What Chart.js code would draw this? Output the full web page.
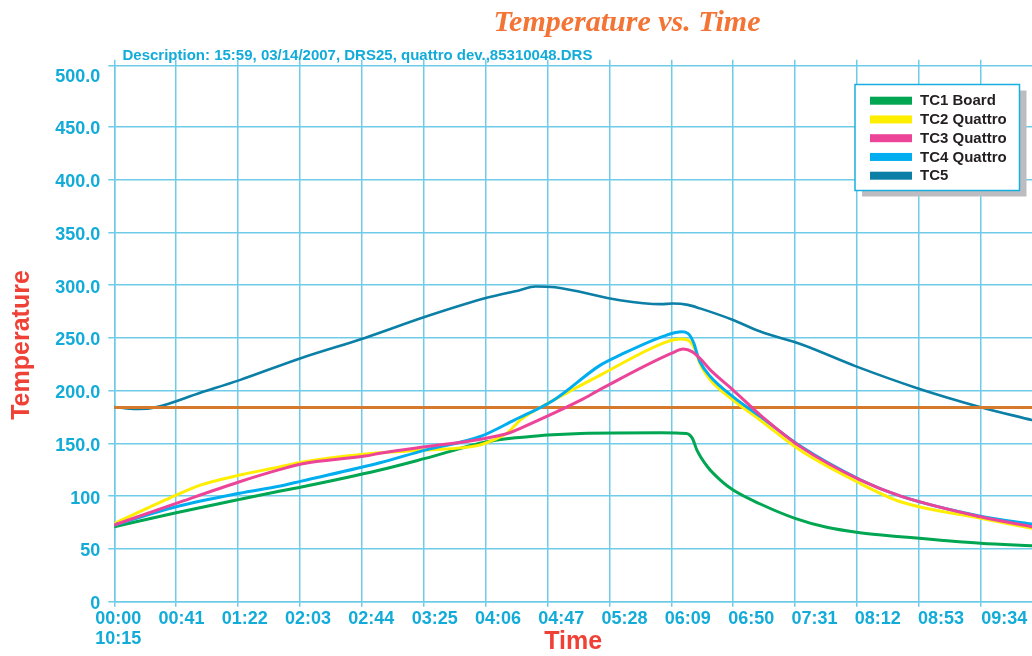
<!DOCTYPE html>
<html><head><meta charset="utf-8">
<script src="https://cdn.jsdelivr.net/npm/chart.js@4.4.1/dist/chart.umd.min.js"></script>
<style>html,body{margin:0;padding:0;background:#fff;overflow:hidden}#wrap{position:relative;width:1032px;height:656px}</style>
</head><body><div id="wrap"><canvas id="c" width="1032" height="656"></canvas></div>
<script>
const chartTitle = 'Temperature vs. Time';
const description = 'Description: 15:59, 03/14/2007, DRS25, quattro dev.,85310048.DRS';
const xAxisTitle = 'Time';
const yAxisTitle = 'Temperature';
const seriesNames = ['TC1 Board', 'TC2 Quattro', 'TC3 Quattro', 'TC4 Quattro', 'TC5'];

const xTickSeconds = [0, 41, 82, 123, 164, 205, 246, 287, 328, 369, 410, 451, 492, 533, 574];
const xTickLabels = ['00:00', '00:41', '01:22', '02:03', '02:44', '03:25', '04:06', '04:47', '05:28', '06:09', '06:50', '07:31', '08:12', '08:53', '09:34'];
const xFirstSubLabel = '10:15';
const xMaxSeconds = 608;
const xLabelScaleMin = -2.5;
const xLabelScaleMax = 591.9;
const yTickValues = [0, 50, 100, 150, 200, 250, 300, 350, 400, 450, 500];
const yTickLabels = ['0', '50', '100', '150.0', '200.0', '250.0', '300.0', '350.0', '400.0', '450.0', '500.0'];
const yMax = 508;

const tc1Time = [0, 41, 83, 110, 124, 176, 206, 247, 287, 309, 362, 379, 383, 386, 393, 401.5, 410, 428, 451, 472, 494, 521, 574, 608];
const tc1Temp = [71, 84.3, 97, 104.9, 108.7, 124.8, 135.8, 151.6, 157.9, 159.5, 160.1, 159.5, 154.8, 143.7, 127.9, 115.3, 105.8, 92.6, 79, 70.5, 65.4, 61.6, 55.3, 53];

const tc2Time = [0, 41, 57, 83, 110, 124, 176, 206, 242, 251, 260, 269, 291, 322, 366, 375, 380, 385, 388, 395, 410, 428, 455, 494, 521, 574, 608];
const tc2Temp = [74.2, 101, 110.5, 120, 127.9, 132.3, 141.2, 143.7, 148.4, 153.2, 159.5, 172.1, 191, 214.8, 246.3, 248.9, 247.9, 238.4, 225.8, 210, 191, 172, 143, 112.2, 94.7, 79, 69.5];

const tc3Time = [0, 41, 83, 110, 124, 166, 176, 206, 242, 262, 269, 309, 322, 369, 377, 383, 388, 395, 410, 428, 455, 494, 521, 574, 608];
const tc3Temp = [72.7, 93.2, 113.7, 125.4, 130.5, 138, 140.6, 146.8, 153.8, 160.1, 164.3, 191, 201.2, 235.3, 239.4, 236.8, 230.6, 219.5, 200.6, 176.9, 146.5, 115.5, 100.1, 80.5, 71];

const tc4Time = [0, 41, 83, 110, 124, 176, 206, 242, 265, 291, 322, 335, 366, 376, 380, 384, 386, 388, 395, 410, 428, 455, 494, 521, 574, 608];
const tc4Temp = [72.7, 90, 102.7, 109.6, 114.3, 131.7, 143.7, 156.3, 172.1, 191, 224.2, 233.7, 252.7, 255.8, 254.3, 244.8, 235.3, 227.4, 213.2, 194.2, 175.5, 147, 115.8, 100, 81, 73.6];

const tc5Time = [0, 8, 16, 28, 57, 83, 124, 166, 207, 248, 268, 279, 292, 335, 362, 370, 380, 388, 410, 428, 455, 491, 532, 574, 608];
const tc5Temp = [184.4, 183.2, 182.6, 184.4, 198, 210, 231, 250, 270.5, 288.5, 295, 298.8, 298, 285.7, 282, 282.6, 281.3, 278, 267, 256, 244, 223.3, 202.4, 184.4, 172.1];

const refTime = [0, 608];
const refTemp = [184, 184];

const seriesColors = ['#00a651', '#ffee00', '#ec4498', '#00aeef', '#0b7fa6'];
const refColor = '#d5792c';
const gridColor = '#6fcbe7';
const tickColor = '#13acd9';
const axisTitleColor = '#ef4136';
const titleColor = '#f37435';

Chart.defaults.font.family = '"Liberation Sans", Arial, sans-serif';

function pts(t, v) { return t.map((x, i) => ({ x: x, y: v[i] })); }

const seriesData = [[tc1Time, tc1Temp], [tc2Time, tc2Temp], [tc3Time, tc3Temp], [tc4Time, tc4Temp], [tc5Time, tc5Temp]];
const drawOrder = [3, 2, 0, 1, 5];
const datasets = seriesNames.map((name, i) => ({
  label: name,
  data: pts(seriesData[i][0], seriesData[i][1]),
  borderColor: seriesColors[i],
  backgroundColor: seriesColors[i],
  borderWidth: i === 4 ? 2.6 : 3,
  order: drawOrder[i],
  inLegend: true
}));
datasets.push({ label: 'ref', data: pts(refTime, refTemp), borderColor: refColor, backgroundColor: refColor, borderWidth: 3, order: 4, inLegend: false });

const decor = {
  id: 'decor',
  afterDraw(chart) {
    const c = chart.ctx;
    c.save();
    c.fillStyle = titleColor;
    c.font = 'italic bold 30px "Liberation Serif", serif';
    c.textAlign = 'center';
    c.textBaseline = 'alphabetic';
    c.fillText(chartTitle, 627, 30.5);

    c.fillStyle = tickColor;
    c.font = 'bold 15px "Liberation Sans", Arial, sans-serif';
    c.textAlign = 'left';
    c.textBaseline = 'middle';
    c.fillText(description, 122.5, 55.5);

    // y axis title
    c.save();
    c.translate(21.7, 345);
    c.rotate(-Math.PI / 2);
    c.fillStyle = axisTitleColor;
    c.font = 'bold 25px "Liberation Sans", Arial, sans-serif';
    c.textAlign = 'center';
    c.textBaseline = 'middle';
    c.fillText(yAxisTitle, 0, 0);
    c.restore();

    // legend box
    const bx = 855, by = 84.5, bw = 164.5, bh = 106;
    c.fillStyle = '#bdbdc1';
    c.fillRect(bx + 7, by + 6, bw, bh);
    c.fillStyle = '#ffffff';
    c.fillRect(bx, by, bw, bh);
    c.strokeStyle = '#1aaee0';
    c.lineWidth = 1.5;
    c.strokeRect(bx, by, bw, bh);
    const items = chart.data.datasets.filter(d => d.inLegend);
    c.font = 'bold 15px "Liberation Sans", Arial, sans-serif';
    c.textAlign = 'left';
    c.textBaseline = 'middle';
    items.forEach((d, i) => {
      const y = 100.7 + i * 18.75;
      c.fillStyle = d.borderColor;
      c.fillRect(870, y - 4, 42, 8);
      c.fillStyle = '#231f20';
      c.fillText(d.label, 920, y + 0.5);
    });
    c.restore();
  }
};

const tickFont = { family: '"Liberation Sans", Arial, sans-serif', weight: 'bold', size: 18, lineHeight: 1.11 };

function noPad(s) { s.paddingLeft = 0; s.paddingRight = 0; s.paddingTop = 0; s.paddingBottom = 0; }

new Chart(document.getElementById('c'), {
  type: 'line',
  data: { datasets: datasets },
  options: {
    responsive: false,
    animation: false,
    devicePixelRatio: 1,
    layout: { padding: { top: 65.7, left: 0, right: 0, bottom: 0 } },
    plugins: { legend: { display: false }, title: { display: false }, tooltip: { enabled: false } },
    elements: { point: { radius: 0 }, line: { cubicInterpolationMode: 'monotone', borderCapStyle: 'round', borderJoinStyle: 'round' } },
    scales: {
      x: {
        type: 'linear', position: 'bottom', min: 0, max: xMaxSeconds,
        afterBuildTicks: s => { s.ticks = xTickSeconds.map(v => ({ value: v })); },
        afterFit: s => { s.height = 54.3; noPad(s); },
        grid: { color: gridColor, lineWidth: 1.5, tickLength: 5 },
        border: { color: gridColor, width: 1.5 },
        ticks: { display: false },
        title: { display: true, text: xAxisTitle, color: axisTitleColor, font: { size: 25, weight: 'bold', lineHeight: 1 }, padding: { top: 0, bottom: 1 } }
      },
      xLabels: {
        type: 'linear', axis: 'x', position: { y: 0 }, min: xLabelScaleMin, max: xLabelScaleMax, display: true,
        afterBuildTicks: s => { s.ticks = xTickSeconds.map(v => ({ value: v })); },
        afterFit: s => { s.height = 0; noPad(s); },
        grid: { display: false, drawTicks: false, drawOnChartArea: false },
        border: { display: false },
        ticks: {
          display: true, color: tickColor, font: tickFont, padding: 7.3, maxRotation: 0, minRotation: 0, autoSkip: false,
          callback: (v, i) => i === 0 ? [xTickLabels[0], xFirstSubLabel] : xTickLabels[i]
        }
      },
      x2: {
        type: 'linear', position: 'top', min: 0, max: xMaxSeconds,
        afterBuildTicks: s => { s.ticks = xTickSeconds.map(v => ({ value: v })); },
        afterFit: s => { s.height = 0; noPad(s); },
        grid: { color: gridColor, lineWidth: 1.5, tickLength: 6, drawOnChartArea: false },
        border: { display: false },
        ticks: { display: false }
      },
      y: {
        type: 'linear', position: 'left', min: 0, max: yMax,
        afterBuildTicks: s => { s.ticks = yTickValues.concat([yMax]).map(v => ({ value: v })); },
        afterFit: s => { s.width = 114.3; noPad(s); },
        grid: { color: ctx => (ctx.tick && ctx.tick.value === 500) ? 'rgba(0,0,0,0)' : gridColor, lineWidth: 1.5, tickLength: 6 },
        border: { color: gridColor, width: 1.5 },
        ticks: {
          color: tickColor, font: tickFont, padding: 8, autoSkip: false, labelOffset: 2.5,
          callback: (v, i) => i < yTickLabels.length ? yTickLabels[i] : ''
        }
      }
    }
  },
  plugins: [decor]
});
</script>
</body></html>
